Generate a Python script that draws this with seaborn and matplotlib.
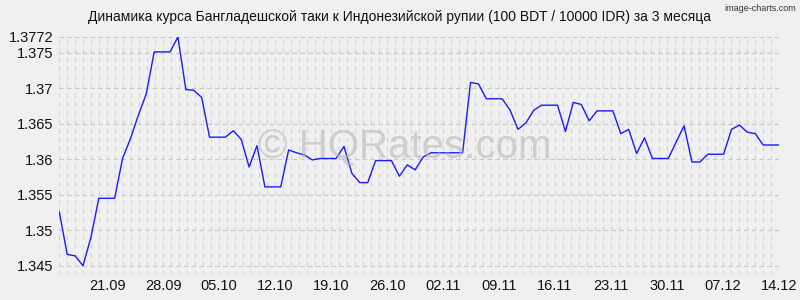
import matplotlib
matplotlib.use("Agg")
import matplotlib.pyplot as plt
import matplotlib.dates as mdates
import numpy as np
import pandas as pd
import seaborn as sns

title = "Динамика курса Бангладешской таки к Индонезийской рупии (100 BDT / 10000 IDR) за 3 месяца"
start_date = "2024-09-15"
end_date = "2024-12-14"

rates = [
    1.3526, 1.3466, 1.3464, 1.3450, 1.3490, 1.3545, 1.3545, 1.3545, 1.3601, 1.3629,
    1.3662, 1.3692, 1.3751, 1.3751, 1.3751, 1.3772, 1.3698, 1.3697, 1.3687, 1.3631,
    1.3631, 1.3631, 1.3640, 1.3628, 1.3589, 1.3619, 1.3561, 1.3561, 1.3561, 1.3613,
    1.3609, 1.3606, 1.3599, 1.3601, 1.3601, 1.3601, 1.3618, 1.3580, 1.3567, 1.3567,
    1.3598, 1.3598, 1.3598, 1.3576, 1.3592, 1.3585, 1.3603, 1.3609, 1.3609, 1.3609,
    1.3609, 1.3609, 1.3708, 1.3706, 1.3685, 1.3685, 1.3685, 1.3669, 1.3642, 1.3651,
    1.3669, 1.3676, 1.3676, 1.3676, 1.3639, 1.3680, 1.3677, 1.3654, 1.3668, 1.3668,
    1.3668, 1.3636, 1.3642, 1.3608, 1.3630, 1.3601, 1.3601, 1.3601, 1.3624, 1.3647,
    1.3596, 1.3596, 1.3607, 1.3607, 1.3607, 1.3642, 1.3648, 1.3638, 1.3636, 1.3620,
    1.3620, 1.3620,
]
y_ticks = [1.345, 1.35, 1.355, 1.36, 1.365, 1.37, 1.375, 1.3772]
y_tick_labels = ["1.345", "1.35", "1.355", "1.36", "1.365", "1.37", "1.375", "1.3772"]
x_tick_dates = ["2024-09-21", "2024-09-28", "2024-10-05", "2024-10-12", "2024-10-19",
                "2024-10-26", "2024-11-02", "2024-11-09", "2024-11-16", "2024-11-23",
                "2024-11-30", "2024-12-07", "2024-12-14"]
x_tick_labels = ["21.09", "28.09", "05.10", "12.10", "19.10", "26.10", "02.11",
                 "09.11", "16.11", "23.11", "30.11", "07.12", "14.12"]

dates = pd.date_range(start_date, end_date, periods=len(rates))
df = pd.DataFrame({"date": dates, "rate": rates})

bg = "#f0f0f0"
sns.set_style("white", {"axes.facecolor": bg, "figure.facecolor": bg})
plt.rcParams["font.family"] = ["Liberation Sans", "DejaVu Sans"]

fig = plt.figure(figsize=(8, 3), dpi=100)
ax = fig.add_axes([0.0741, 0.0833, 0.8996, 0.7934])

sns.lineplot(data=df, x="date", y="rate", ax=ax, color="#1a1aff", linewidth=1.0)

ax.set_xlim(pd.Timestamp(start_date), pd.Timestamp(end_date))
ax.set_ylim(1.3437, 1.3772)

ax.set_yticks(y_ticks)
ax.set_yticklabels(y_tick_labels)
ax.set_xticks([pd.Timestamp(d) for d in x_tick_dates])
ax.set_xticklabels(x_tick_labels)
ax.xaxis.set_minor_locator(mdates.DayLocator())

ax.grid(True, which="major", axis="y", color="#c8c8c8", linestyle=(0, (4, 3)), linewidth=0.8)
ax.grid(True, which="both", axis="x", color="#d4d4d4", linestyle=(0, (4, 4)), linewidth=0.8)
ax.set_axisbelow(True)

for s in ax.spines.values():
    s.set_visible(False)
ax.tick_params(axis="both", which="both", length=0, labelsize=10.5, colors="#111111")
ax.tick_params(axis="x", pad=3)
ax.tick_params(axis="y", pad=4)
ax.set_xlabel("")
ax.set_ylabel("")

fig.text(0.5, 0.943, title, ha="center", va="center", fontsize=10, color="#111111")
fig.text(0.995, 0.972, "image-charts.com", ha="right", va="center", fontsize=6.5,
         color="#333333", family=["Liberation Sans Narrow", "Liberation Sans", "DejaVu Sans"])
fig.text(0.506, 0.51, "© HQRates.com", ha="center", va="center", fontsize=29,
         color="#b4b4b4", alpha=0.55, zorder=0)

fig.savefig("out.png", dpi=100, facecolor=bg)
